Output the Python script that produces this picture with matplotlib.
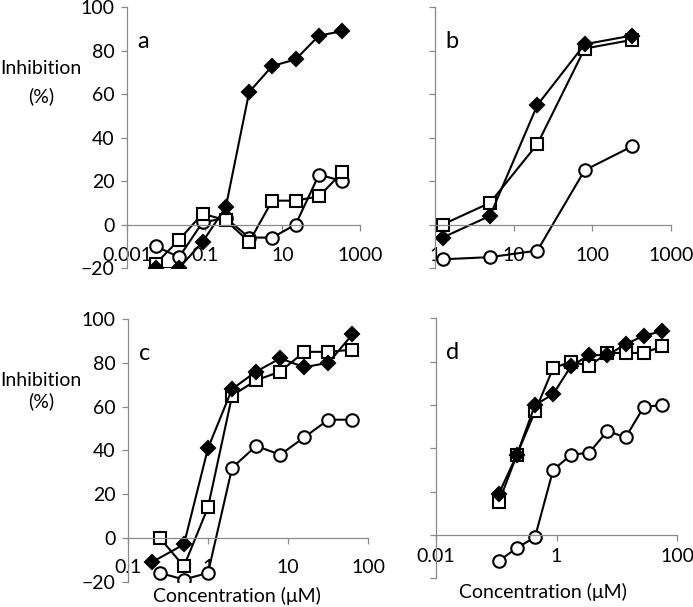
import matplotlib
matplotlib.use('Agg')
import matplotlib.pyplot as plt
import numpy as np

plt.rcParams['font.family'] = ['Lato', 'DejaVu Sans']

# Panel a
conc_a = [0.0055, 0.022, 0.088, 0.35, 1.4, 5.5, 22, 88, 350]
a_diamond = [-20, -20, -8, 8, 61, 73, 76, 87, 89]
a_square = [-18, -7, 5, 2, -8, 11, 11, 13, 24]
a_circle = [-10, -15, 1, 3, -6, -6, 0, 23, 20]

# Panel b
conc_b = [1.25, 5, 20, 80, 320]
b_diamond = [-6, 4, 55, 83, 87]
b_square = [0, 10, 37, 81, 85]
b_circle = [-16, -15, -12, 25, 36]

# Panel c
conc_c = [0.25, 0.5, 1, 2, 4, 8, 16, 32, 64]
conc_c_diamond = [0.2, 0.5, 1, 2, 4, 8, 16, 32, 64]
c_diamond = [-11, -3, 41, 68, 76, 82, 78, 80, 93]
c_square = [0, -13, 14, 65, 72, 76, 85, 85, 86]
c_circle = [-16, -19, -16, 32, 42, 38, 46, 54, 54]

# Panel d
conc_d = [0.11, 0.22, 0.44, 0.88, 1.75, 3.5, 7, 14, 28, 56]
d_diamond = [19, 37, 60, 65, 78, 83, 83, 88, 92, 94]
d_square = [15, 37, 57, 77, 80, 78, 84, 84, 84, 87]
d_circle = [-12, -6, -1, 30, 37, 38, 48, 45, 59, 60]

y_ticks = [-20, 0, 20, 40, 60, 80, 100]
ticks_a = [0.001, 0.1, 10, 1000]
ticks_b = [1, 10, 100, 1000]
ticks_c = [0.1, 1, 10, 100]
ticks_d = [0.01, 1, 100]

W, H = 693, 607
fig = plt.figure(figsize=(W / 100, H / 100), dpi=100)


def make_axes(x0, x1, ytop, ybot):
    # pixel box -> figure coords
    return fig.add_axes([x0 / W, 1 - ybot / H, (x1 - x0) / W, (ybot - ytop) / H])


def draw_panel(ax, xd, yd, xs, ys, xc, yc, xticks, xlabels, letter,
               show_ylabels, xpad):
    ax.set_xscale('log')
    ax.set_xlim(xticks[0], xticks[-1])
    ax.set_ylim(-20, 100)

    line_kw = dict(color='black', lw=1.5, markeredgewidth=1.5, markeredgecolor='black')
    ax.plot(xc, yc, marker='o', markersize=9, markerfacecolor='white', **line_kw)
    ax.plot(xs, ys, marker='s', markersize=8.5, markerfacecolor='white', **line_kw)
    ax.plot(xd, yd, marker='D', markersize=7, markerfacecolor='black', **line_kw)

    for side in ['top', 'right']:
        ax.spines[side].set_visible(False)
    ax.spines['bottom'].set_position(('data', 0))
    for side in ['left', 'bottom']:
        ax.spines[side].set_color('#8a8a8a')
        ax.spines[side].set_linewidth(0.9)

    ax.set_xticks(xticks)
    ax.set_xticklabels(xlabels)
    ax.xaxis.set_minor_locator(matplotlib.ticker.NullLocator())
    ax.set_yticks(y_ticks)
    if not show_ylabels:
        ax.set_yticklabels([])
    ax.tick_params(axis='both', colors='#8a8a8a', labelcolor='black',
                   labelsize=14, length=4, width=0.9)
    ax.tick_params(axis='x', pad=xpad)
    ax.tick_params(axis='y', pad=5)
    ax.patch.set_visible(False)
    ax.text(0.07, 0.87, letter, transform=ax.transAxes, fontsize=17,
            ha='center', va='center')


ax_a = make_axes(127, 360, 7.3, 268)
draw_panel(ax_a, conc_a, a_diamond, conc_a, a_square, conc_a, a_circle,
           ticks_a, ['0.001', '0.1', '10', '1000'], 'a', True, 12)

ax_b = make_axes(435, 671, 7.3, 268)
draw_panel(ax_b, conc_b, b_diamond, conc_b, b_square, conc_b, b_circle,
           ticks_b, ['1', '10', '100', '1000'], 'b', False, 12)

ax_c = make_axes(128, 368, 319, 581.7)
draw_panel(ax_c, conc_c_diamond, c_diamond, conc_c, c_square, conc_c, c_circle,
           ticks_c, ['0.1', '1', '10', '100'], 'c', True, 11)

ax_d = make_axes(436, 677, 318.3, 578.3)
draw_panel(ax_d, conc_d, d_diamond, conc_d, d_square, conc_d, d_circle,
           ticks_d, ['0.01', '1', '100'], 'd', False, 5.5)

# y axis titles
fig.text(41 / W, 1 - 69 / H, 'Inhibition', fontsize=14, ha='center', va='center')
fig.text(41 / W, 1 - 96 / H, '(%)', fontsize=14, ha='center', va='center')
fig.text(41 / W, 1 - 380 / H, 'Inhibition', fontsize=14, ha='center', va='center')
fig.text(41 / W, 1 - 401 / H, '(%)', fontsize=14, ha='center', va='center')

# x axis titles
fig.text(237 / W, 1 - 596 / H, 'Concentration (\u03bcM)', fontsize=14, ha='center', va='center')
fig.text(543 / W, 1 - 592 / H, 'Concentration (\u03bcM)', fontsize=14, ha='center', va='center')

fig.savefig('out.png', dpi=100)
